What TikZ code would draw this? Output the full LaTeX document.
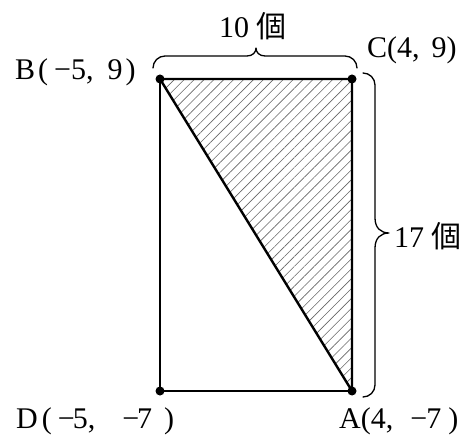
\documentclass[tikz,border=0pt]{standalone}
\usepackage{fontspec}
\setmainfont{Liberation Serif}
\newfontfamily\cjk{Noto Sans CJK JP}
\usetikzlibrary{patterns.meta}
\begin{document}
\begin{tikzpicture}[x=1pt,y=1pt,
  thinedge/.style={line width=1.4pt},
  thickedge/.style={line width=2.4pt},
  dotmark/.style={circle,fill=black,inner sep=0pt,minimum size=9pt},
  lbl/.style={font=\fontsize{30}{32}\selectfont,inner sep=0pt},
  bracestyle/.style={line width=1.3pt,line cap=round,line join=round}]
\useasboundingbox (0,0) rectangle (471,442);
\coordinate (B) at (160,363);
\coordinate (C) at (352,363);
\coordinate (D) at (160,51);
\coordinate (A) at (352,51);
\fill[pattern={Lines[angle=45,distance=7pt,line width=0.6pt]},pattern color=black!60] (B) -- (C) -- (A) -- cycle;
\draw[thinedge] (B) -- (D) -- (A);
\draw[thickedge,line join=round] (A) -- (B) -- (C) -- cycle;
\node[dotmark] (nB) at (B) {};
\node[dotmark] (nC) at (C) {};
\node[dotmark] (nD) at (D) {};
\node[dotmark] (nA) at (A) {};
% top brace
\coordinate (t1) at (153,374);
\coordinate (t2) at (357,374);
\coordinate (ttip) at (256,394);
\draw[bracestyle] (t1) arc[start angle=180,end angle=90,radius=12] -- (247,386)
  .. controls (253,386) and (256,390) .. (ttip)
  .. controls (256,390) and (259,386) .. (265,386) -- (345,386)
  arc[start angle=90,end angle=0,radius=12];
% right brace
\coordinate (r1) at (363,369);
\coordinate (rtip) at (389,209);
\draw[bracestyle] (r1) arc[start angle=90,end angle=0,radius=12] -- (375,224)
  .. controls (375,214) and (381,209) .. (rtip)
  .. controls (381,209) and (375,204) .. (375,194) -- (375,57)
  arc[start angle=0,end angle=-90,radius=12];
\node[lbl,anchor=base west] (top) at (219,404) {10 {\cjk 個}};
\node[lbl,anchor=base west] (right) at (394,194) {17 {\cjk 個}};
\node[lbl,anchor=base west] (lB) at (15,362) {B\hspace{3pt}(\hspace{6pt}−5,\hspace{14pt}9\hspace{3pt})};
\node[lbl,anchor=base west] (lC) at (367,384) {C(4,\hspace{12pt}9)};
\node[lbl,anchor=base west] (lD) at (16,14) {D\hspace{4pt}(\hspace{6pt}−\hspace{-2pt}5,\hspace{27pt}−\hspace{-2pt}7\hspace{12pt})};
\node[lbl,anchor=base west] (lA) at (339,14) {A(4,\hspace{17pt}−\hspace{-1pt}7\hspace{7pt})};
\end{tikzpicture}
\end{document}
